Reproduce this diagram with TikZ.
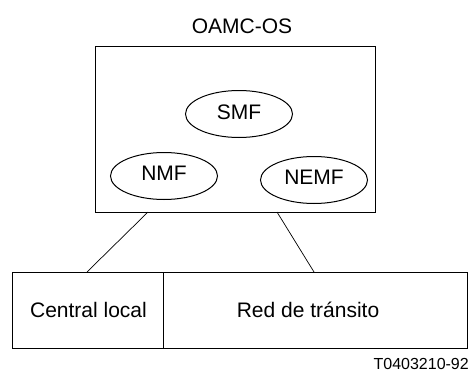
\documentclass[tikz,border=0pt]{standalone}
\usepackage{fontspec}
\setmainfont{Liberation Sans}
\usetikzlibrary{shapes.geometric}
\begin{document}
\begin{tikzpicture}[x=1pt,y=-1pt,
  lbl/.style={font=\fontsize{21}{25}\selectfont, inner sep=0pt, anchor=base},
  oval/.style={draw, ellipse, line width=1pt, inner sep=0pt, minimum width=107pt, minimum height=47pt},
  boxline/.style={draw, line width=1pt},
  conn/.style={draw, line width=0.7pt}]
\useasboundingbox (0,0) rectangle (473,372);
\node[boxline, minimum width=280pt, minimum height=166pt, inner sep=0pt] (os) at (235,129) {};
\node[lbl] (title) at (242,33) {OAMC-OS};
\node[oval] (smf) at (239,114) {};
\node[lbl] (smft) at (239,119) {SMF};
\node[oval] (nmf) at (164,176) {};
\node[lbl] (nmft) at (164,180) {NMF};
\node[oval] (nemf) at (314,180) {};
\node[lbl] (nemft) at (314,184) {NEMF};
\node[boxline, minimum width=151pt, minimum height=76pt, inner sep=0pt] (cl) at (87.5,310) {};
\node[boxline, minimum width=304pt, minimum height=76pt, inner sep=0pt] (rt) at (315,310) {};
\node[lbl] (clt) at (88.5,317) {Central local};
\node[lbl] (rtt) at (308,317) {Red de tránsito};
\node[font=\fontsize{16}{19}\selectfont, inner sep=0pt, anchor=base east] (ref) at (469,369) {T0403210-92};
\coordinate (a1) at (148,212);
\coordinate (a2) at (87,272);
\coordinate (b1) at (277,212);
\coordinate (b2) at (314,272);
\draw[conn] (a1) -- (a2);
\draw[conn] (b1) -- (b2);
\end{tikzpicture}
\end{document}
